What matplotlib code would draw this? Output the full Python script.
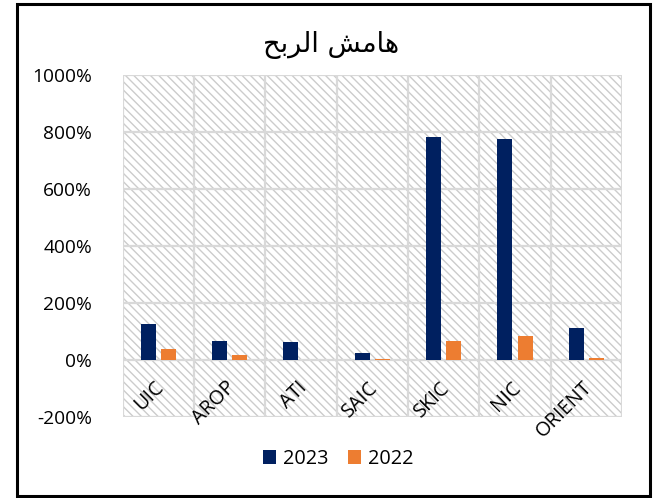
import matplotlib
matplotlib.use("Agg")
import matplotlib.pyplot as plt
from matplotlib.patches import Rectangle
from matplotlib.ticker import FuncFormatter
import numpy as np

categories = ["UIC", "AROP", "ATI", "SAIC", "SKIC", "NIC", "ORIENT"]
series_names = ["2023", "2022"]
values_2023 = [124, 64, 62, 24, 783, 776, 111]
values_2022 = [36, 17, 0, 3, 65, 83, 7]
yticks = [-200, 0, 200, 400, 600, 800, 1000]
# Arabic title (logical text) and its visual, pre-shaped form for rendering
title_text = "هامش الربح"
title_visual = "\ufea2\ufe91\ufeae\ufedf\ufe8d \ufeb6\ufee3\ufe8e\ufeeb"

navy = "#002060"
orange = "#ED7D31"
grid_c = "#d9d9d9"
FS = 13.8

plt.rcParams['font.family'] = ['Open Sans', 'DejaVu Sans']

fig = plt.figure(figsize=(6.62, 4.98), dpi=100)
W, H = 662, 498
ax = fig.add_axes([122.5 / W, 1 - 416.5 / H, (622 - 122.5) / W, (416.5 - 75) / H])

# figure frame
fig.patches.append(Rectangle((17 / W, 1 - 496 / H), (649.5 - 17) / W, (496 - 4) / H,
                             transform=fig.transFigure, fill=False,
                             edgecolor="black", linewidth=2.2))

# hatched background
ax.set_facecolor("white")
plt.rcParams['hatch.linewidth'] = 1.0
ax.add_patch(Rectangle((0, 0), 1, 1, transform=ax.transAxes, facecolor="white",
                       edgecolor="#cccccc", hatch="\\\\\\\\", linewidth=0, zorder=0))

x = np.arange(len(categories))
bw = 0.21
off = 0.141
ax.bar(x - off, values_2023, width=bw, color=navy, label=series_names[0], zorder=3)
ax.bar(x + off, values_2022, width=bw, color=orange, label=series_names[1], zorder=3)

ax.set_xlim(-0.5, len(categories) - 0.5)
ax.set_ylim(-200, 1000)
ax.set_yticks(yticks)
ax.yaxis.set_major_formatter(FuncFormatter(lambda v, p: f"{int(v)}%"))
ax.tick_params(axis="y", length=0, labelsize=FS, pad=22)

# grid
for yv in yticks:
    ax.axhline(yv, color=grid_c, linewidth=1.6, zorder=1)
for b in np.arange(-0.5, len(categories), 1.0):
    ax.axvline(b, color=grid_c, linewidth=1.6, zorder=1)
for s in ax.spines.values():
    s.set_visible(False)

# category labels placed next to the 0% line
ax.set_xticks([])
for xi, lab in zip(x, categories):
    ax.annotate(lab, xy=(xi, 0), xycoords="data", xytext=(3, -25),
                textcoords="offset pixels", rotation=45, rotation_mode="anchor",
                ha="right", va="center", fontsize=FS + 0.6, zorder=4)

fig.text(331 / W, 1 - 45 / H, title_visual, ha="center", va="center",
         fontsize=19.5, family=["DejaVu Sans"])

leg = fig.legend(loc="center", bbox_to_anchor=(338 / W, 1 - 459 / H), ncol=2,
                 frameon=False, fontsize=FS + 0.5, handlelength=0.65, handleheight=0.65,
                 columnspacing=1.0, handletextpad=0.35)

fig.savefig("out.png", dpi=100)
